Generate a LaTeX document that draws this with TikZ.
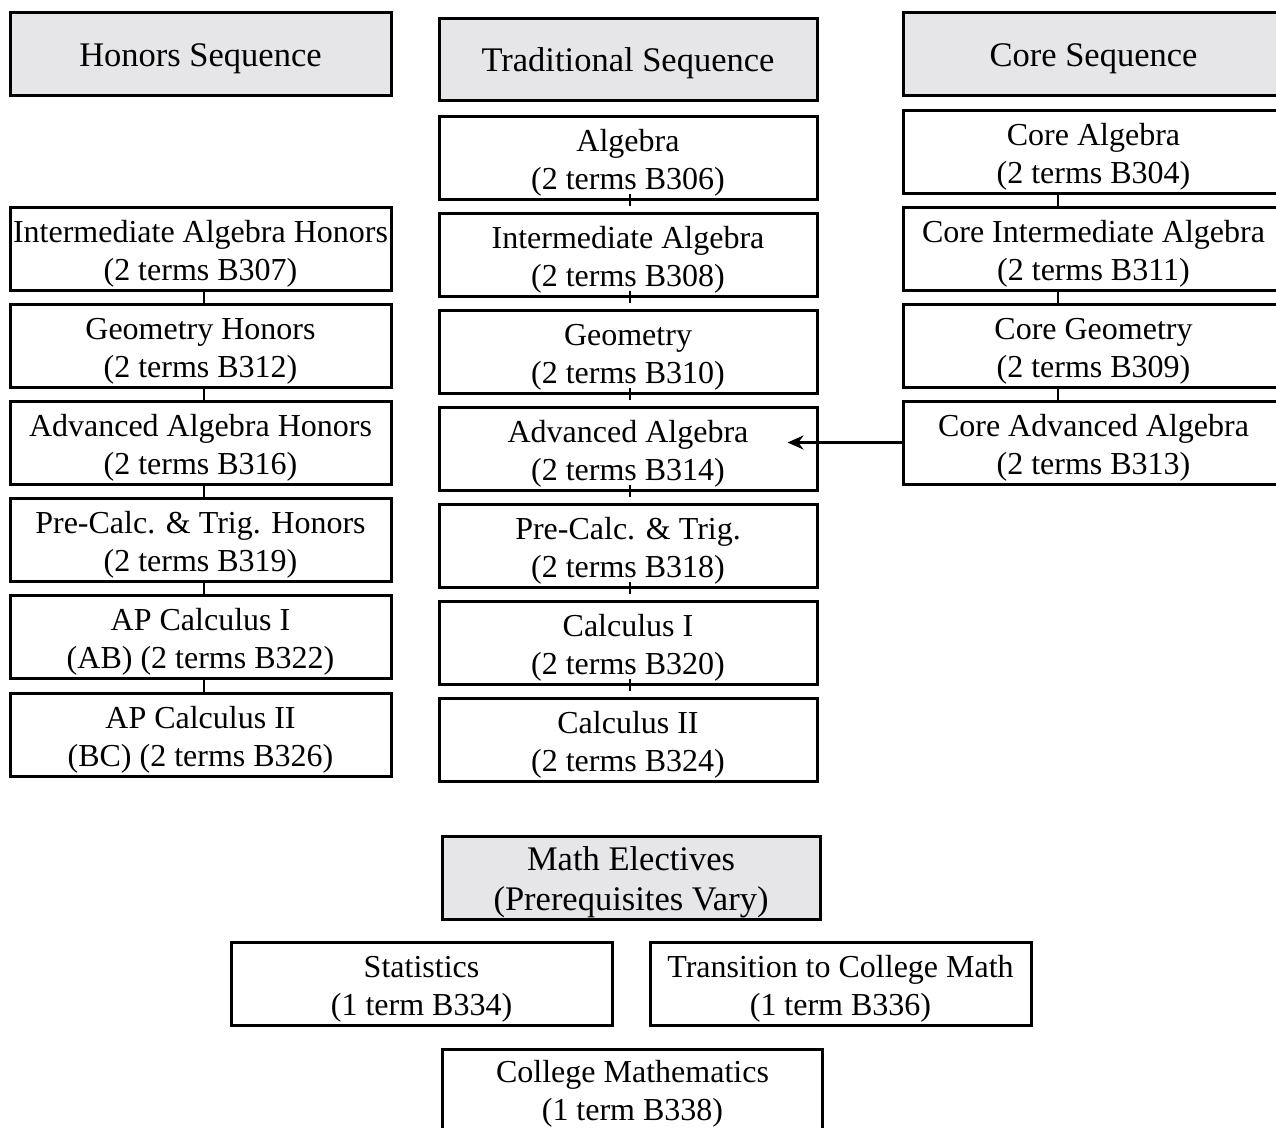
\documentclass[tikz,border=0pt]{standalone}
\usepackage{fontspec}
\setmainfont{Liberation Serif}
\usetikzlibrary{arrows.meta}
\definecolor{hdrgray}{RGB}{230,230,232}
\newcommand{\myTopStrut}{\rule{0pt}{32pt}}
\newcommand{\myHdrStrut}{\rule{0pt}{33pt}}
\begin{document}
\begin{tikzpicture}[x=1pt,y=-1pt,
  box/.style={draw=black,line width=3pt,fill=white,inner sep=0pt,align=center,
    minimum height=83pt,font=\fontsize{32}{38}\selectfont},
  hdr/.style={box,fill=hdrgray,font=\fontsize{34.5}{40}\selectfont},
  conn/.style={line width=2.5pt},
  arr/.style={line width=2.5pt,-{Stealth[length=16pt,width=14pt]}}]
\useasboundingbox (0,0) rectangle (1276,1127);
% headers
\node[hdr,minimum width=381pt] (hon) at (200.5,53.5) {\myHdrStrut Honors Sequence};
\node[hdr,minimum width=378pt,minimum height=82pt] (trad) at (628,59) {\myHdrStrut Traditional Sequence};
\node[hdr,minimum width=381pt] (core) at (1093.5,53.5) {\myHdrStrut Core Sequence};
% middle column
\node[box,minimum width=378pt] (m1) at (628,158) {\myTopStrut Algebra\\(2 terms B306)};
\node[box,minimum width=378pt] (m2) at (628,254.5) {\myTopStrut Intermediate Algebra\\(2 terms B308)};
\node[box,minimum width=378pt] (m3) at (628,351.5) {\myTopStrut Geometry\\(2 terms B310)};
\node[box,minimum width=378pt] (m4) at (628,448.5) {\myTopStrut Advanced Algebra\\(2 terms B314)};
\node[box,minimum width=378pt] (m5) at (628,545.5) {\myTopStrut Pre-Calc. \& Trig.\\(2 terms B318)};
\node[box,minimum width=378pt] (m6) at (628,642.5) {\myTopStrut Calculus I\\(2 terms B320)};
\node[box,minimum width=378pt] (m7) at (628,740) {\myTopStrut Calculus II\\(2 terms B324)};
% left column
\node[box,minimum width=381pt] (l1) at (200.5,249) {\myTopStrut Intermediate Algebra Honors\\(2 terms B307)};
\node[box,minimum width=381pt] (l2) at (200.5,345.5) {\myTopStrut Geometry Honors\\(2 terms B312)};
\node[box,minimum width=381pt] (l3) at (200.5,442.5) {\myTopStrut Advanced Algebra Honors\\(2 terms B316)};
\node[box,minimum width=381pt] (l4) at (200.5,539.5) {\myTopStrut Pre-Calc. \& Trig. Honors\\(2 terms B319)};
\node[box,minimum width=381pt] (l5) at (200.5,637) {\myTopStrut AP Calculus I\\(AB) (2 terms B322)};
\node[box,minimum width=381pt] (l6) at (200.5,734.5) {\myTopStrut AP Calculus II\\(BC) (2 terms B326)};
% right column
\node[box,minimum width=381pt] (r1) at (1093.5,152) {\myTopStrut Core Algebra\\(2 terms B304)};
\node[box,minimum width=381pt] (r2) at (1093.5,249) {\myTopStrut Core Intermediate Algebra\\(2 terms B311)};
\node[box,minimum width=381pt] (r3) at (1093.5,345.5) {\myTopStrut Core Geometry\\(2 terms B309)};
\node[box,minimum width=381pt] (r4) at (1093.5,442.5) {\myTopStrut Core Advanced Algebra\\(2 terms B313)};
% electives
\node[hdr,minimum width=378pt] (el) at (631,877.5) {\rule{0pt}{33pt}Math Electives\\(Prerequisites Vary)};
\node[box,minimum width=381pt] (st) at (421.5,983.5) {\myTopStrut Statistics\\(1 term B334)};
\node[box,minimum width=381pt] (tc) at (840.5,983.5) {\myTopStrut Transition to College Math\\(1 term B336)};
\node[box,minimum width=380pt] (cm) at (632.5,1090.5) {\rule{0pt}{28pt}College Mathematics\\(1 term B338)};
% connectors middle
\foreach \a/\b in {m1/m2,m2/m3,m3/m4,m4/m5,m5/m6,m6/m7}
  \draw[conn] ([xshift=2pt,yshift=7pt]\a.south) -- ([xshift=2pt,yshift=6pt]\b.north);
% connectors left
\foreach \a/\b in {l1/l2,l2/l3,l3/l4,l4/l5,l5/l6}
  \draw[conn] ([xshift=3.5pt]\a.south) -- ([xshift=3.5pt]\b.north);
% connectors right
\foreach \a/\b in {r1/r2,r2/r3,r3/r4}
  \draw[conn] ([xshift=-35.5pt]\a.south) -- ([xshift=-35.5pt]\b.north);
% arrow
\coordinate (tip) at ([xshift=-31pt]m4.east |- r4.west);
\draw[arr] (r4.west) -- (tip);
\end{tikzpicture}
\end{document}
